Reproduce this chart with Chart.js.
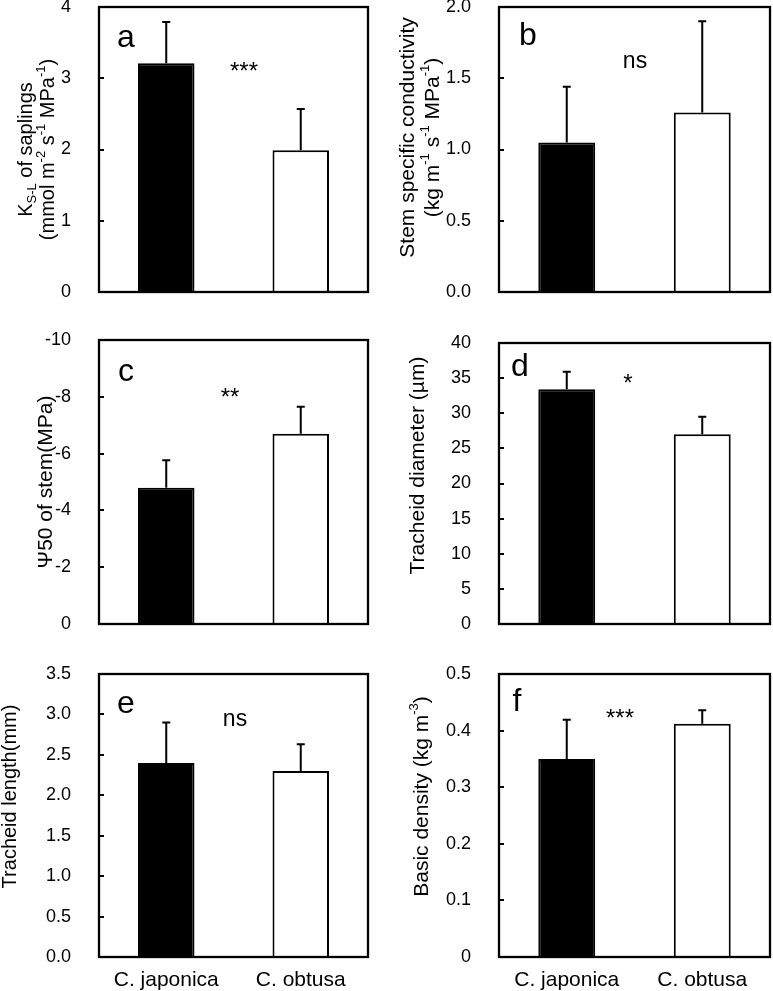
<!DOCTYPE html>
<html lang="en">
<head>
<meta charset="UTF-8">
<title>Sapling hydraulics: C. japonica vs C. obtusa</title>
<script src="https://cdn.jsdelivr.net/npm/chart.js@4.4.1/dist/chart.umd.min.js"></script>
<style>
  body { margin: 0; background: #fff; width: 773px; height: 991px; position: relative; overflow: hidden; }
  canvas { position: absolute; }
</style>
</head>
<body>
<script>
// data
const categories = ['C. japonica', 'C. obtusa'];

const ksl = [3.21, 1.99];            // a
const kslErr = [0.58, 0.58];
const stemK = [1.05, 1.26];          // b
const stemKErr = [0.39, 0.64];
const psi50 = [-4.8, -6.7];          // c
const psi50Err = [0.97, 0.95];
const trachDiam = [33.4, 27.0];      // d
const trachDiamErr = [2.5, 2.5];
const trachLen = [2.40, 2.30];       // e
const trachLenErr = [0.50, 0.33];
const density = [0.35, 0.412];       // f
const densityErr = [0.069, 0.024];

const panelLetters = ['a', 'b', 'c', 'd', 'e', 'f'];
const signif = ['***', 'ns', '**', '*', 'ns', '***'];

// y axis titles: lines of segments [text, 'n'|'sub'|'sup']
const yTitles = [
  [[['K', 'n'], ['S-L', 'sub'], [' of saplings', 'n']],
   [['(mmol m', 'n'], ['-2', 'sup'], [' s', 'n'], ['-1', 'sup'], [' MPa', 'n'], ['-1', 'sup'], [')', 'n']]],
  [[['Stem specific conductivity', 'n']],
   [['(kg m', 'n'], ['-1', 'sup'], [' s', 'n'], ['-1', 'sup'], [' MPa', 'n'], ['-1', 'sup'], [')', 'n']]],
  [[['\u03A850 of stem(MPa)', 'n']]],
  [[['Tracheid diameter (\u00B5m)', 'n']]],
  [[['Tracheid length(mm)', 'n']]],
  [[['Basic density (kg m', 'n'], ['-3', 'sup'], [')', 'n']]]
];

const yMin = [0, 0, -10, 0, 0, 0];
const yMax = [4, 2, 0, 40, 3.5, 0.5];
const yStep = [1, 0.5, 2, 5, 0.5, 0.1];
const yDecimals = [0, 1, 0, 0, 1, null];

const means = [ksl, stemK, psi50, trachDiam, trachLen, density];
const errs = [kslErr, stemKErr, psi50Err, trachDiamErr, trachLenErr, densityErr];

// layout (page px): plot box, title line x positions, title centre shift, letter / signif positions
const boxes = [
  { l: 99, t: 7, r: 368, b: 292, cl: 0, cr: 386, titleX: [26, 48], titleDy: 0, titleSize: 20, letter: [126, 38], sig: [244, 68] },
  { l: 499, t: 7, r: 770, b: 292, cl: 386, cr: 773, titleX: [408, 433], titleDy: -12, titleSize: 21, letter: [528, 36], sig: [635, 62] },
  { l: 99, t: 340, r: 368, b: 624, cl: 0, cr: 386, titleX: [46], titleDy: 0, titleSize: 21, letter: [126, 372], sig: [230, 394] },
  { l: 499, t: 343, r: 770, b: 624, cl: 386, cr: 773, titleX: [418], titleDy: -18, titleSize: 21, letter: [520, 367], sig: [628, 380] },
  { l: 99, t: 674, r: 368, b: 957, cl: 0, cr: 386, titleX: [10], titleDy: -19, titleSize: 20, letter: [126, 704], sig: [235, 720] },
  { l: 499, t: 674, r: 770, b: 957, cl: 386, cr: 773, titleX: [422], titleDy: -19, titleSize: 21, letter: [517, 702], sig: [620, 715] }
];

const FONT = '"Liberation Sans", Arial, sans-serif';
const TOP_PAD = 22;

function drawRich(ctx, segs, cx, cy, size) {
  ctx.save();
  ctx.translate(cx, cy);
  ctx.rotate(-Math.PI / 2);
  ctx.textBaseline = 'middle';
  ctx.textAlign = 'left';
  const small = Math.round(size * 0.64);
  let total = 0;
  segs.forEach(s => {
    ctx.font = (s[1] === 'n' ? size : small) + 'px ' + FONT;
    total += ctx.measureText(s[0]).width;
  });
  let x = -total / 2;
  segs.forEach(s => {
    ctx.font = (s[1] === 'n' ? size : small) + 'px ' + FONT;
    let dy = 0;
    if (s[1] === 'sup') dy = -size * 0.35;
    if (s[1] === 'sub') dy = size * 0.3;
    ctx.fillText(s[0], x, dy);
    x += ctx.measureText(s[0]).width;
  });
  ctx.restore();
}

boxes.forEach((bx, i) => {
  const bottomPanel = i >= 4;
  const xh = bottomPanel ? 34 : 20;
  const canvasTop = bx.t - TOP_PAD;
  const cv = document.createElement('canvas');
  cv.width = bx.cr - bx.cl;
  cv.height = TOP_PAD + (bx.b - bx.t) + xh;
  cv.style.left = bx.cl + 'px';
  cv.style.top = canvasTop + 'px';
  document.body.appendChild(cv);

  const extras = {
    id: 'extras' + i,
    afterDatasetsDraw(chart) {
      const ctx = chart.ctx;
      const ys = chart.scales.y;
      const meta = chart.getDatasetMeta(0);
      ctx.save();
      ctx.strokeStyle = '#000';
      ctx.lineWidth = 2;
      meta.data.forEach((bar, k) => {
        const v = means[i][k];
        const top = v + Math.sign(v) * errs[i][k];
        const yTop = ys.getPixelForValue(top);
        ctx.beginPath();
        ctx.moveTo(bar.x, bar.y);
        ctx.lineTo(bar.x, yTop);
        ctx.moveTo(bar.x - 4, yTop);
        ctx.lineTo(bar.x + 4, yTop);
        ctx.stroke();
      });
      ctx.restore();
    },
    afterDraw(chart) {
      const ctx = chart.ctx;
      const a = chart.chartArea;
      const ys = chart.scales.y;
      ctx.save();
      ctx.strokeStyle = '#000';
      ctx.lineWidth = 2.3;
      ctx.strokeRect(a.left, a.top, a.right - a.left, a.bottom - a.top);
      // inward tick marks
      ctx.lineWidth = 2;
      ys.ticks.forEach(t => {
        const y = Math.round(ys.getPixelForValue(t.value));
        ctx.beginPath();
        ctx.moveTo(a.left, y);
        ctx.lineTo(a.left + 5, y);
        ctx.stroke();
      });
      ctx.fillStyle = '#000';
      // y title
      const lines = yTitles[i];
      const cy = (a.top + a.bottom) / 2 + bx.titleDy;
      lines.forEach((segs, li) => drawRich(ctx, segs, bx.titleX[li] - bx.cl, cy, bx.titleSize));
      // panel letter
      ctx.textAlign = 'center';
      ctx.textBaseline = 'middle';
      ctx.font = '32px ' + FONT;
      ctx.fillText(panelLetters[i], bx.letter[0] - bx.cl, bx.letter[1] - canvasTop);
      // significance
      const isStar = signif[i].indexOf('*') >= 0;
      ctx.font = (isStar ? 24 : 23) + 'px ' + FONT;
      ctx.fillText(signif[i], bx.sig[0] - bx.cl, bx.sig[1] - canvasTop + (isStar ? 4 : 0));
      ctx.restore();
    }
  };

  new Chart(cv.getContext('2d'), {
    type: 'bar',
    data: {
      labels: categories,
      datasets: [{
        data: means[i],
        backgroundColor: ['#000', '#fff'],
        borderColor: '#000',
        borderWidth: 2,
        borderSkipped: 'start',
        barPercentage: 0.42,
        categoryPercentage: 1
      }]
    },
    options: {
      responsive: false,
      animation: false,
      events: [],
      layout: { padding: { top: TOP_PAD, right: bx.cr - bx.r, left: 0, bottom: 0 } },
      plugins: { legend: { display: false }, tooltip: { enabled: false } },
      scales: {
        x: {
          grid: { display: false },
          border: { display: false },
          ticks: { display: bottomPanel, color: '#000', font: { family: FONT, size: 21 }, padding: 3, maxRotation: 0 },
          afterFit(s) { s.height = xh; s.paddingLeft = 0; s.paddingRight = 0; }
        },
        y: {
          min: yMin[i],
          max: yMax[i],
          reverse: yMax[i] <= 0,
          grid: { display: false },
          border: { display: false },
          ticks: {
            stepSize: yStep[i],
            color: '#000',
            padding: 20,
            font: { family: FONT, size: 18 },
            callback: v => yDecimals[i] === null ? String(Math.round(v * 10) / 10) : Number(v).toFixed(yDecimals[i])
          },
          afterFit(s) { s.width = bx.l - bx.cl; s.paddingTop = 0; s.paddingBottom = 0; }
        }
      }
    },
    plugins: [extras]
  });
});
</script>
</body>
</html>
